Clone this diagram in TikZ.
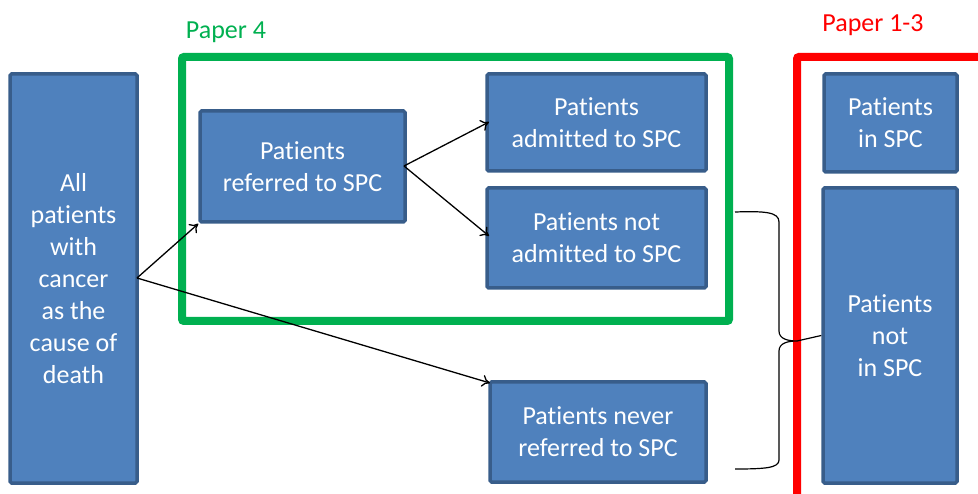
\documentclass[tikz,border=0pt]{standalone}
\usepackage{fontspec}
\setmainfont{Carlito}[RawFeature={-liga;-clig;-calt;-dlig}]
\usetikzlibrary{arrows.meta}
\definecolor{boxfill}{RGB}{79,129,189}
\definecolor{boxline}{RGB}{56,93,138}
\definecolor{papergreen}{RGB}{0,176,80}
\newcommand\mypat{Pat\kern0pt ients}
\begin{document}
\begin{tikzpicture}[x=1pt,y=-1pt,
  box/.style={draw=boxline, fill=boxfill, line width=3.5pt, rounded corners=1.5pt,
    text=white, align=center, font=\fontsize{26}{32}\selectfont, inner sep=0pt},
  conn/.style={line width=1.3pt, -{To[length=8pt,width=12pt]}},
  brace/.style={line width=1.2pt},
  frame/.style={line width=8pt, rounded corners=2pt}]
\useasboundingbox (0,0) rectangle (978,494);
\clip (0,0) rectangle (978,494);
% frames
\draw[frame, draw=papergreen] (182,57) rectangle (729,321);
\draw[frame, draw=red] (797,57) rectangle (1010,530);
\node[text=papergreen, font=\fontsize{26}{32}\selectfont] (p4) at (226,32) {Paper 4};
\node[text=red, font=\fontsize{26}{32}\selectfont] (p13) at (873,25) {Paper 1-3};
% boxes
\node[box, minimum width=127, minimum height=409] (all) at (73.5,278.5)
  {All\\pat\kern0pt ients\\with\\cancer\\as the\\cause of\\death};
\node[box, minimum width=205, minimum height=111] (ref) at (302.5,166.5)
  {\mypat\\referred to SPC};
\node[box, minimum width=219, minimum height=97] (adm) at (596.5,122.5)
  {\mypat\\admit\kern0pt ted to SPC};
\node[box, minimum width=219, minimum height=100] (nadm) at (596.5,238)
  {\mypat{} not\\admit\kern0pt ted to SPC};
\node[box, minimum width=216, minimum height=100] (never) at (598,432)
  {\mypat{} never\\referred to SPC};
\node[box, minimum width=133, minimum height=98] (in) at (890.5,123)
  {\mypat\\in SPC};
\node[box, minimum width=134, minimum height=295] (notin) at (890,335.5)
  {\mypat\\not\\in SPC};
% arrows
\coordinate (a0) at (137,278);
\coordinate (r0) at (404,166);
\draw[conn] (a0) -- (ref.south west);
\draw[conn] (a0) -- (490,383);
\draw[conn] (r0) -- (489,122);
\draw[conn] (r0) -- (489,236);
% brace
\coordinate (bt) at (735,212);
\coordinate (bb) at (735,469);
\coordinate (bm) at (797,341);
\draw[brace] (bt) .. controls (765,211) and (779,212) .. (779,222) -- (779,331)
  .. controls (779,339) and (788,341) .. (bm)
  .. controls (788,341) and (779,343) .. (779,351) -- (779,460)
  .. controls (779,468) and (765,469) .. (bb);
\draw[brace] (bm) -- (notin.west);
\end{tikzpicture}
\end{document}
